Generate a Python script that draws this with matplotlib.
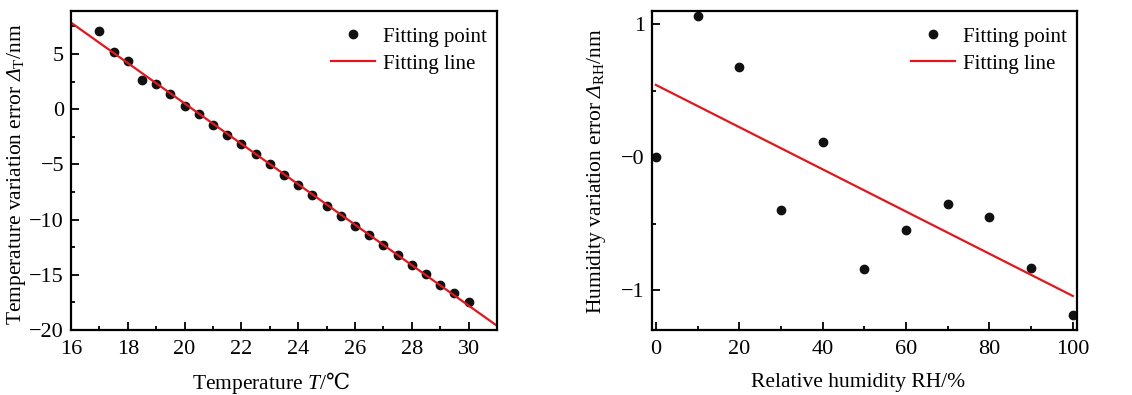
import numpy as np
import matplotlib
matplotlib.use("Agg")
import matplotlib.pyplot as plt
from matplotlib.ticker import MultipleLocator, FixedLocator

plt.rcParams['font.family'] = ['Liberation Serif', 'DejaVu Serif']
plt.rcParams['mathtext.fontset'] = 'custom'
plt.rcParams['mathtext.rm'] = 'Liberation Serif'
plt.rcParams['mathtext.it'] = 'Liberation Serif:italic'
plt.rcParams['mathtext.cal'] = 'Liberation Serif:italic'   # italic capital Greek
plt.rcParams['mathtext.sf'] = 'DejaVu Serif'               # for the degree-Celsius sign
plt.rcParams['font.size'] = 15

# temperature data
temp = np.arange(17, 30.01, 0.5)
temp_err = [7.05, 5.15, 4.33, 2.67, 2.33, 1.34, 0.31, -0.42, -1.42, -2.3,
            -3.17, -4.08, -4.95, -6.0, -6.88, -7.78, -8.78, -9.65, -10.6,
            -11.4, -12.3, -13.2, -14.1, -14.96, -15.9, -16.65, -17.5]

# humidity data
rh = [0, 10, 20, 30, 40, 50, 60, 70, 80, 90, 100]
rh_err = [0.0, 1.06, 0.68, -0.40, 0.118, -0.84, -0.55, -0.35, -0.45, -0.83, -1.19]
rh_ticklabels = ['1', '\u22120', '\u22121']

RED = '#e3161d'


def style_axes(ax):
    for sp in ax.spines.values():
        sp.set_linewidth(1.6)
    ax.tick_params(which='both', direction='in', top=False, right=False,
                   labelsize=16, width=1.3)
    ax.tick_params(axis='x', pad=7)
    ax.tick_params(axis='y', pad=5)
    ax.tick_params(which='major', length=6)
    ax.tick_params(which='minor', length=3)


def add_legend(ax):
    ax.legend(loc='upper right', bbox_to_anchor=(1.0, 0.982), frameon=False,
              fontsize=15, handlelength=2.15, handletextpad=0.35,
              labelspacing=0.35, borderaxespad=0.1)


fig = plt.figure(figsize=(11.32, 3.95), dpi=100)

# left: temperature
ax1 = fig.add_axes([0.0627, 0.1646, 0.3763, 0.8076])
ax1.plot(temp, temp_err, 'o', color='#111111', markersize=6, label='Fitting point')
k, b = np.polyfit(temp, temp_err, 1)
xl = np.array([16, 31])
ax1.plot(xl, k * xl + b, '-', color=RED, lw=1.6, label='Fitting line')
ax1.set_xlim(16, 31)
ax1.set_ylim(-20, 8.9)
ax1.xaxis.set_major_locator(FixedLocator(np.arange(16, 31, 2)))
ax1.xaxis.set_minor_locator(MultipleLocator(1))
ax1.yaxis.set_major_locator(MultipleLocator(5))
ax1.yaxis.set_minor_locator(MultipleLocator(2.5))
ax1.set_xlabel('Temperature $T$/$\\mathsf{\u2103}$', fontsize=15.5, va='center')
ax1.set_ylabel('Temperature variation error $\\mathcal{\u0394}_\\mathrm{T}$/nm',
               fontsize=15.5, va='center')
ax1.xaxis.set_label_coords(0.47, -0.165)
ax1.yaxis.set_label_coords(-0.127, 0.49)
style_axes(ax1)
add_legend(ax1)

# right: humidity
ax2 = fig.add_axes([0.5757, 0.1646, 0.3757, 0.8076])
ax2.plot(rh, rh_err, 'o', color='#111111', markersize=6, label='Fitting point')
k2, b2 = np.polyfit(rh, rh_err, 1)
xr = np.array([0, 100])
ax2.plot(xr, k2 * xr + b2, '-', color=RED, lw=1.6, label='Fitting line')
ax2.set_xlim(-1, 101)
ax2.set_ylim(-1.3, 1.1)
ax2.xaxis.set_major_locator(MultipleLocator(20))
ax2.xaxis.set_minor_locator(MultipleLocator(10))
ax2.yaxis.set_major_locator(FixedLocator([1, 0, -1]))
ax2.yaxis.set_minor_locator(FixedLocator([0.5, -0.5]))
ax2.set_yticklabels(rh_ticklabels)
ax2.set_xlabel('Relative humidity RH/%', fontsize=15.5, va='center')
ax2.set_ylabel('Humidity variation error $\\mathcal{\u0394}_\\mathrm{RH}$/nm',
               fontsize=15.5, va='center')
ax2.xaxis.set_label_coords(0.485, -0.165)
ax2.yaxis.set_label_coords(-0.129, 0.50)
style_axes(ax2)
add_legend(ax2)

fig.savefig('out.png', dpi=100)
